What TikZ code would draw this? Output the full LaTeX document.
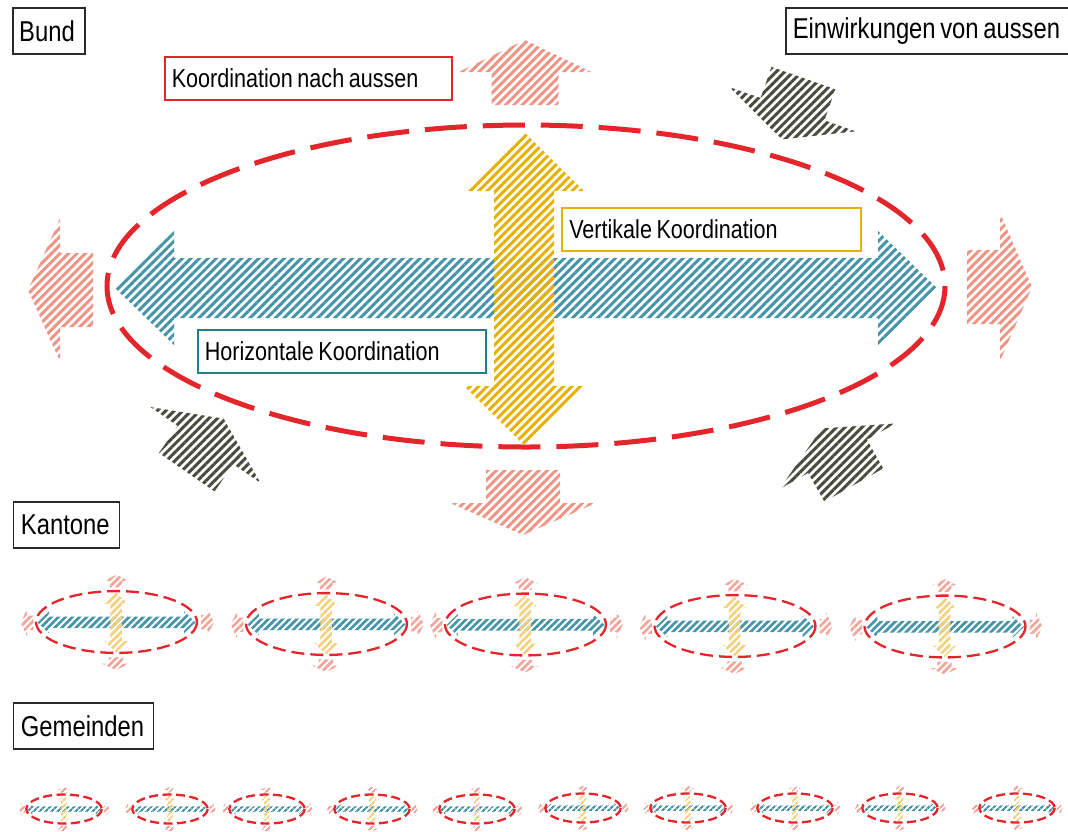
\documentclass[tikz,border=0pt]{standalone}
\usepackage{fontspec}
\setmainfont{Liberation Sans}[FakeStretch=0.83]
\usetikzlibrary{patterns.meta}
\definecolor{ellred}{HTML}{E3262B}
\definecolor{bluec}{HTML}{4594A8}
\definecolor{yellowc}{HTML}{E6B000}
\definecolor{pinkc}{HTML}{EE9484}
\definecolor{darkc}{HTML}{4A4A3E}
\definecolor{yellowl}{HTML}{F3D17E}
\definecolor{pinkl}{HTML}{F0A69B}
\definecolor{tealb}{HTML}{1F7F86}
\definecolor{boxyel}{HTML}{E8B000}
\definecolor{boxblk}{HTML}{2A2A2A}
\newcommand\ws{\hspace{4.6pt}}
\tikzset{
  blueA/.style={pattern={Lines[angle=45,distance=6pt,line width=3pt]}, pattern color=bluec},
  yellowA/.style={pattern={Lines[angle=45,distance=6pt,line width=3pt]}, pattern color=yellowc},
  pinkA/.style={pattern={Lines[angle=45,distance=6pt,line width=3pt]}, pattern color=pinkc},
  ellA/.style={draw=ellred, line width=5pt, dash pattern=on 42pt off 16pt},
  blueB/.style={pattern={Lines[angle=45,distance=5pt,line width=2.7pt]}, pattern color=bluec},
  yellowB/.style={pattern={Lines[angle=45,distance=5pt,line width=2.7pt]}, pattern color=yellowl},
  pinkB/.style={pattern={Lines[angle=45,distance=5pt,line width=2.7pt]}, pattern color=pinkl},
  ellB/.style={draw=ellred, line width=2.3pt, dash pattern=on 13pt off 6pt},
  blueC/.style={pattern={Lines[angle=45,distance=4pt,line width=2.2pt]}, pattern color=bluec},
  yellowC/.style={pattern={Lines[angle=45,distance=4pt,line width=2.2pt]}, pattern color=yellowl},
  pinkC/.style={pattern={Lines[angle=45,distance=4pt,line width=2.2pt]}, pattern color=pinkl},
  ellC/.style={draw=ellred, line width=2.3pt, dash pattern=on 9pt off 4.5pt},
  darkhatch/.style={pattern={Lines[angle=45,distance=6pt,line width=3pt]}, pattern color=darkc},
  lblbox/.style={draw, line width=1.5pt, fill=white, anchor=north west, align=left, inner ysep=0pt},
  bigtxt/.style={font=\fontsize{28.7}{34}\selectfont},
  smalltxt/.style={font=\fontsize{26}{31}\selectfont}
}
% block arrow: base centre (#1,#2), direction #3, half shaft #4, half head #5, scale #6, style #7
\newcommand\barrow[7]{%
  \begin{scope}[shift={(#1,#2)}, x={(#3:#6pt)}, y={({#3+90}:#6pt)}]
    \fill[#7] (-33,-#4) -- (0,-#4) -- (0,-#5) -- (32,0) -- (0,#5) -- (0,#4) -- (-33,#4) -- cycle;
  \end{scope}}
% one coordination unit: centre (#1,#2), scale #3, variant #4
\newcommand\unitdraw[4]{%
  \begin{scope}[shift={(#1,#2)}, x=#3pt, y=-#3pt]
    \fill[blue#4] (-411,2) -- (-352,-55) -- (-352,-28) -- (352,-28) -- (352,-55) -- (411,2)
      -- (352,59) -- (352,32) -- (-352,32) -- (-352,59) -- cycle;
    \fill[yellow#4] (-2,-154) -- (58,-95) -- (28,-95) -- (28,100) -- (58,100) -- (-2,159)
      -- (-62,100) -- (-32,100) -- (-32,-95) -- (-62,-95) -- cycle;
    \barrow{-1}{-214}{90}{33.5}{66.5}{#3}{pink#4}
    \barrow{-3}{217}{-90}{37}{73}{#3}{pink#4}
    \barrow{-466}{4}{180}{37}{71.5}{#3}{pink#4}
    \barrow{474}{1}{0}{37}{74}{#3}{pink#4}
    \draw[ell#4] (0,0) ellipse [x radius=419, y radius=161];
  \end{scope}}
\begin{document}
\begin{tikzpicture}[x=1pt,y=-1pt]
\useasboundingbox[fill=white] (0,0) rectangle (1068,831);
% main unit (Bund)
\unitdraw{526}{286}{1}{A}
% influences from outside
\barrow{792.5}{109.2}{-109.3}{33.8}{66.8}{1}{darkhatch}
\barrow{205.5}{445}{55.4}{33.8}{66.8}{1}{darkhatch}
\barrow{837.5}{456.3}{119.5}{33.8}{66.8}{1}{darkhatch}
% Kantone
\unitdraw{116.5}{622}{0.192}{B}
\unitdraw{326.5}{624}{0.192}{B}
\unitdraw{525.5}{624.5}{0.192}{B}
\unitdraw{735}{626}{0.192}{B}
\unitdraw{945}{626.5}{0.192}{B}
% Gemeinden
\unitdraw{64}{809}{0.09}{C}
\unitdraw{170}{809}{0.09}{C}
\unitdraw{267}{809}{0.09}{C}
\unitdraw{372}{809}{0.09}{C}
\unitdraw{477}{809}{0.09}{C}
\unitdraw{583}{808}{0.09}{C}
\unitdraw{688}{808}{0.09}{C}
\unitdraw{795}{808}{0.09}{C}
\unitdraw{900}{808}{0.09}{C}
\unitdraw{1017}{808}{0.09}{C}
% labels
\node[lblbox, bigtxt, draw=boxblk, inner xsep=6.5pt, text width=59pt, minimum height=46pt] (bund) at (12,7) {Bund};
\node[lblbox, bigtxt, draw=boxblk, inner xsep=7pt, text width=286pt, minimum height=46pt] (einw) at (785,7) {Einwirkungen\ws von\ws aussen};
\node[lblbox, smalltxt, draw=ellred, inner xsep=7pt, text width=273pt, minimum height=43pt] (kna) at (164,56) {Koordination\ws nach\ws aussen};
\node[lblbox, smalltxt, draw=boxyel, inner xsep=7.5pt, text width=284pt, minimum height=43pt] (vert) at (561,207) {Vertikale\ws Koordination};
\node[lblbox, smalltxt, draw=tealb, inner xsep=7pt, text width=274pt, minimum height=43pt] (horiz) at (197,329) {Horizontale\ws Koordination};
\node[lblbox, bigtxt, draw=boxblk, inner xsep=7.5pt, text width=91pt, minimum height=46pt] (kant) at (12.7,501) {Kantone};
\node[lblbox, bigtxt, draw=boxblk, inner xsep=7.5pt, text width=125pt, minimum height=46pt] (gem) at (12.7,702) {Gemeinden};
\end{tikzpicture}
\end{document}
